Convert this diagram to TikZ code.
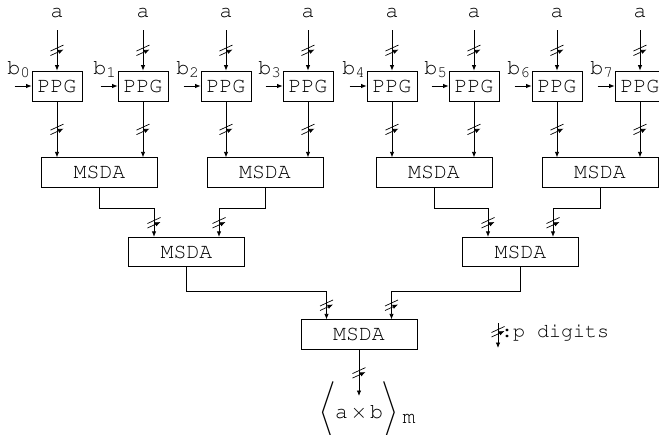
\documentclass[tikz,border=0pt]{standalone}
\usepackage[T1]{fontenc}
\usepackage{courier}
\usepackage{exscale}
\usetikzlibrary{arrows.meta,calc}
\begin{document}
\begin{tikzpicture}[x=1pt,y=-1pt,
  wire/.style={line width=0.8pt},
  arr/.style={wire,-{Latex[length=5.5pt,width=4.5pt]}},
  blk/.style={draw,line width=0.8pt,inner sep=0pt,font=\ttfamily\fontsize{21.5}{21.5}\selectfont},
  ppgbox/.style={blk,minimum width=50pt,minimum height=30pt},
  msdabox/.style={blk,minimum width=116pt,minimum height=29.5pt},
  txt/.style={font=\ttfamily\fontsize{21.5}{21.5}\selectfont,inner sep=0pt},
  dslash/.pic={\draw[line width=0.7pt] (-6.5pt,-0.75pt)--(6.5pt,5.25pt) (-6.5pt,-5.25pt)--(6.5pt,0.75pt);}
]
\useasboundingbox (0,0) rectangle (659,434);

% partial product generators with their operand inputs
\foreach \i/\x in {0/57,1/143,2/226,3/308,4/392,5/474,6/557,7/640} {
  \node[ppgbox] (p\i) at (\x,86) {PPG};
  \node[txt] (a\i) at (\x,12.5) {a};
  \coordinate (ta\i) at (\x,30);
  \draw[arr] (ta\i) -- pic{dslash} (p\i.north);
  \node[txt,anchor=base east] (b\i) at ($(p\i.west)+(-1.5,-12)$)
    {b\raisebox{-3pt}{\fontsize{16}{16}\selectfont\i}};
  \coordinate (tb\i) at ($(p\i.west)+(-17,0)$);
  \draw[arr] (tb\i) -- (p\i.west);
}

% first adder level
\foreach \j/\x in {0/99.5,1/265,2/434,3/600}
  \node[msdabox] (m\j) at (\x,172.5) {MSDA};
\foreach \i/\j in {0/0,1/0,2/1,3/1,4/2,5/2,6/3,7/3}
  \draw[arr] (p\i.south) -- pic{dslash} (p\i.south |- m\j.north);

% second adder level
\node[msdabox] (n0) at (186.5,252) {MSDA};
\node[msdabox] (n1) at (520.5,252) {MSDA};
\draw[arr] (m0.south) -- ++(0,21) -| pic[pos=0.75]{dslash} ([xshift=-32.5pt]n0.north);
\draw[arr] (m1.south) -- ++(0,21) -| pic[pos=0.75]{dslash} ([xshift=32.5pt]n0.north);
\draw[arr] (m2.south) -- ++(0,21) -| pic[pos=0.75]{dslash} ([xshift=-32.5pt]n1.north);
\draw[arr] (m3.south) -- ++(0,21) -| pic[pos=0.75]{dslash} ([xshift=32.5pt]n1.north);

% final adder and result, the product centred on the multiplication sign
\node[msdabox] (f) at (359,334.5) {MSDA};
\draw[arr] (n0.south) -- ++(0,24) -| pic[pos=0.75]{dslash} ([xshift=-32.5pt]f.north);
\draw[arr] (n1.south) -- ++(0,24) -| pic[pos=0.75]{dslash} ([xshift=32.5pt]f.north);
\coordinate (out) at (359,396);
\draw[arr] (f.south) -- pic{dslash} (out);
\node[txt,anchor=base] (res) at (359,418)
  {\makebox[0pt][r]{$\Bigg\langle$\hspace{-1pt}a\hspace{3pt}}$\times$\makebox[0pt][l]{\hspace{3pt}b\hspace{-1pt}$\Bigg\rangle$\hspace{4pt}\raisebox{-5pt}{m}}};

% legend
\coordinate (lg1) at (498,323);
\coordinate (lg2) at (498,348);
\draw[arr] (lg1) -- pic[pos=0.35]{dslash} (lg2);
\node[txt,anchor=west,font=\ttfamily\fontsize{20}{20}\selectfont] (lgt) at (501,333) {:p digits};
\end{tikzpicture}
\end{document}
